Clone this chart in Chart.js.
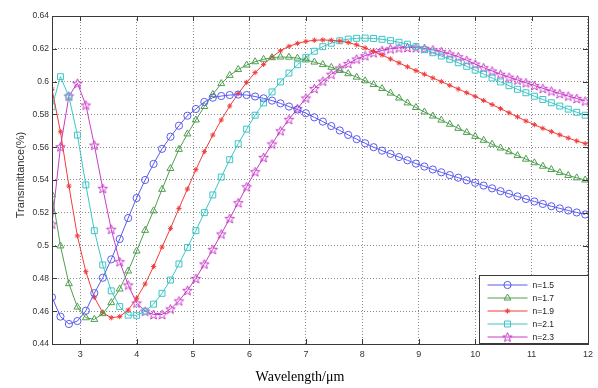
<!DOCTYPE html>
<html>
<head>
<meta charset="utf-8">
<script src="https://cdn.jsdelivr.net/npm/chart.js@4/dist/chart.umd.min.js"></script>
<style>
html,body{margin:0;padding:0;background:#fff;}
#wrap{width:598px;height:388px;}
</style>
</head>
<body>
<div id="wrap"><canvas id="c" width="598" height="388"></canvas></div>
<script>
// ---- data ----
const wavelength = [2.5, 2.65, 2.8, 2.95, 3.1, 3.25, 3.4, 3.55, 3.7, 3.85, 4.0, 4.15, 4.3, 4.45, 4.6, 4.75,
  4.9, 5.05, 5.2, 5.35, 5.5, 5.65, 5.8, 5.95, 6.1, 6.25, 6.4, 6.55, 6.7, 6.85, 7.0, 7.15,
  7.3, 7.45, 7.6, 7.75, 7.9, 8.05, 8.2, 8.35, 8.5, 8.65, 8.8, 8.95, 9.1, 9.25, 9.4, 9.55,
  9.7, 9.85, 10.0, 10.15, 10.3, 10.45, 10.6, 10.75, 10.9, 11.05, 11.2, 11.35, 11.5, 11.65, 11.8, 11.95];

const n15 = [0.4685, 0.4567, 0.4522, 0.4540, 0.4603, 0.4710, 0.4804, 0.4916, 0.5040, 0.5168, 0.5290, 0.5400, 0.5498, 0.5590, 0.5664, 0.5731,
  0.5792, 0.5833, 0.5876, 0.5902, 0.5912, 0.5918, 0.5921, 0.5918, 0.5909, 0.5898, 0.5884, 0.5867, 0.5848, 0.5830, 0.5807, 0.5782,
  0.5756, 0.5729, 0.5702, 0.5675, 0.5649, 0.5624, 0.5600, 0.5579, 0.5559, 0.5540, 0.5520, 0.5500, 0.5482, 0.5464, 0.5447, 0.5430,
  0.5414, 0.5398, 0.5383, 0.5366, 0.5349, 0.5332, 0.5316, 0.5300, 0.5284, 0.5269, 0.5254, 0.5240, 0.5227, 0.5214, 0.5202, 0.5190];

const n17 = [0.5310, 0.4998, 0.4768, 0.4625, 0.4560, 0.4550, 0.4585, 0.4652, 0.4735, 0.4845, 0.4967, 0.5093, 0.5212, 0.5343, 0.5470, 0.5587,
  0.5681, 0.5766, 0.5848, 0.5922, 0.5988, 0.6038, 0.6074, 0.6101, 0.6121, 0.6136, 0.6146, 0.6150, 0.6149, 0.6143, 0.6132, 0.6119,
  0.6104, 0.6087, 0.6068, 0.6048, 0.6027, 0.6005, 0.5982, 0.5958, 0.5930, 0.5900, 0.5870, 0.5842, 0.5815, 0.5790, 0.5765, 0.5740,
  0.5715, 0.5690, 0.5666, 0.5642, 0.5618, 0.5595, 0.5572, 0.5549, 0.5527, 0.5505, 0.5484, 0.5464, 0.5445, 0.5428, 0.5413, 0.5400];

const n19 = [0.5953, 0.5694, 0.5363, 0.5059, 0.4841, 0.4685, 0.4591, 0.4560, 0.4567, 0.4607, 0.4679, 0.4766, 0.4872, 0.4991, 0.5105, 0.5227,
  0.5345, 0.5463, 0.5573, 0.5674, 0.5766, 0.5851, 0.5927, 0.5995, 0.6055, 0.6105, 0.6150, 0.6188, 0.6215, 0.6233, 0.6245, 0.6252,
  0.6254, 0.6252, 0.6247, 0.6238, 0.6224, 0.6205, 0.6184, 0.6162, 0.6138, 0.6114, 0.6090, 0.6067, 0.6045, 0.6022, 0.6000, 0.5977,
  0.5955, 0.5932, 0.5910, 0.5885, 0.5860, 0.5835, 0.5810, 0.5785, 0.5760, 0.5737, 0.5715, 0.5695, 0.5675, 0.5656, 0.5638, 0.5622];

const n21 = [0.5847, 0.6030, 0.5908, 0.5674, 0.5370, 0.5091, 0.4882, 0.4724, 0.4628, 0.4576, 0.4575, 0.4600, 0.4643, 0.4709, 0.4790, 0.4888,
  0.4989, 0.5091, 0.5201, 0.5309, 0.5418, 0.5524, 0.5621, 0.5710, 0.5795, 0.5870, 0.5937, 0.5998, 0.6052, 0.6103, 0.6148, 0.6185,
  0.6213, 0.6234, 0.6249, 0.6259, 0.6264, 0.6265, 0.6263, 0.6258, 0.6250, 0.6240, 0.6228, 0.6213, 0.6195, 0.6176, 0.6156, 0.6136,
  0.6115, 0.6093, 0.6070, 0.6046, 0.6022, 0.5998, 0.5975, 0.5953, 0.5932, 0.5911, 0.5891, 0.5871, 0.5851, 0.5832, 0.5813, 0.5795];

const n23 = [0.5132, 0.5603, 0.5912, 0.5990, 0.5857, 0.5613, 0.5349, 0.5100, 0.4902, 0.4760, 0.4650, 0.4600, 0.4580, 0.4580, 0.4614, 0.4663,
  0.4727, 0.4800, 0.4888, 0.4977, 0.5071, 0.5166, 0.5262, 0.5359, 0.5451, 0.5538, 0.5620, 0.5700, 0.5770, 0.5835, 0.5900, 0.5958,
  0.6003, 0.6045, 0.6083, 0.6110, 0.6138, 0.6158, 0.6176, 0.6190, 0.6200, 0.6206, 0.6208, 0.6207, 0.6202, 0.6194, 0.6183, 0.6169,
  0.6152, 0.6130, 0.6107, 0.6085, 0.6065, 0.6045, 0.6027, 0.6010, 0.5993, 0.5976, 0.5959, 0.5943, 0.5927, 0.5912, 0.5897, 0.5882];

const seriesLabels = ['n=1.5', 'n=1.7', 'n=1.9', 'n=2.1', 'n=2.3'];
const xTicks = [3, 4, 5, 6, 7, 8, 9, 10, 11, 12];
const yTicks = [0.44, 0.46, 0.48, 0.5, 0.52, 0.54, 0.56, 0.58, 0.6, 0.62, 0.64];
const xTitle = 'Wavelength/\u03bcm';
const yTitle = 'Transmittance(%)';

// ---- styles ----
const SANS = "'Liberation Sans', Arial, Helvetica, sans-serif";
const SERIF = "'Liberation Serif', 'Times New Roman', serif";
const colors = ['#5a5af0', '#4f9f4f', '#f03c3c', '#3cc6c6', '#c83cc8'];

function makePentagram(color, r) {
  const s = Math.ceil(2 * r + 3);
  const c = document.createElement('canvas');
  c.width = s; c.height = s;
  const g = c.getContext('2d');
  g.strokeStyle = color; g.lineWidth = 1;
  g.beginPath();
  for (let k = 0; k < 10; k++) {
    const a = -Math.PI / 2 + k * Math.PI / 5;
    const rr = (k % 2) ? r * 0.42 : r;
    const px = s / 2 + rr * Math.cos(a), py = s / 2 + 0.5 + rr * Math.sin(a);
    if (k === 0) g.moveTo(px, py); else g.lineTo(px, py);
  }
  g.closePath(); g.stroke();
  return c;
}
const pentagram = makePentagram(colors[4], 5);

const styles = [
  { pointStyle: 'circle', pointRadius: 3.6 },
  { pointStyle: 'triangle', pointRadius: 4 },
  { pointStyle: 'star', pointRadius: 2.6 },
  { pointStyle: 'rect', pointRadius: 4.2 },
  { pointStyle: pentagram, pointRadius: 5 }
];

const allSeries = [n15, n17, n19, n21, n23];
const datasets = allSeries.map((s, k) => ({
  label: seriesLabels[k],
  data: wavelength.map((x, i) => ({ x: x, y: s[i] })),
  borderColor: colors[k],
  backgroundColor: 'rgba(0,0,0,0)',
  pointBorderColor: colors[k],
  pointBackgroundColor: 'rgba(0,0,0,0)',
  borderWidth: 1,
  pointBorderWidth: 1,
  pointStyle: styles[k].pointStyle,
  pointRadius: styles[k].pointRadius,
  tension: 0,
  fill: false
}));

// frame + inward ticks + axis titles + legend
const framePlugin = {
  id: 'frame',
  afterDatasetsDraw(chart) {
    const { ctx, chartArea: a, scales } = chart;
    ctx.save();
    ctx.strokeStyle = '#3a3a3a';
    ctx.lineWidth = 1;
    ctx.setLineDash([]);
    ctx.strokeRect(Math.round(a.left) + 0.5, Math.round(a.top) + 0.5,
      Math.round(a.right - a.left), Math.round(a.bottom - a.top));
    const tl = 5;
    ctx.beginPath();
    xTicks.forEach(v => {
      const px = Math.round(scales.x.getPixelForValue(v)) + 0.5;
      ctx.moveTo(px, a.bottom); ctx.lineTo(px, a.bottom - tl);
      ctx.moveTo(px, a.top); ctx.lineTo(px, a.top + tl);
    });
    yTicks.forEach(v => {
      const py = Math.round(scales.y.getPixelForValue(v)) + 0.5;
      ctx.moveTo(a.left, py); ctx.lineTo(a.left + tl, py);
      ctx.moveTo(a.right, py); ctx.lineTo(a.right - tl, py);
    });
    ctx.stroke();

    // axis titles
    ctx.fillStyle = '#000';
    ctx.textAlign = 'center';
    ctx.textBaseline = 'middle';
    ctx.font = '14px ' + SERIF;
    ctx.fillText(xTitle, 300, 377);
    ctx.save();
    ctx.translate(21, 175);
    ctx.rotate(-Math.PI / 2);
    ctx.fillStyle = '#333';
    ctx.font = '11px ' + SANS;
    ctx.fillText(yTitle, 0, 0);
    ctx.restore();

    // legend box
    const bw = 109, bh = 68;
    const bx = Math.round(a.right) - bw + 0.5, by = Math.round(a.bottom) - bh - 0.5;
    ctx.fillStyle = '#ffffff';
    ctx.fillRect(bx, by, bw, bh);
    ctx.strokeStyle = '#3a3a3a';
    ctx.strokeRect(bx, by, bw, bh);
    ctx.font = '8.5px ' + SANS;
    ctx.textBaseline = 'middle';
    ctx.textAlign = 'left';
    chart.data.datasets.forEach((ds, k) => {
      const yy = by + 9.5 + k * 13;
      ctx.strokeStyle = ds.borderColor;
      ctx.lineWidth = 1;
      ctx.beginPath();
      ctx.moveTo(bx + 8, yy); ctx.lineTo(bx + 48, yy);
      ctx.stroke();
      if (Chart.helpers && Chart.helpers.drawPoint) {
        ctx.fillStyle = 'rgba(0,0,0,0)';
        Chart.helpers.drawPoint(ctx, { pointStyle: ds.pointStyle, radius: ds.pointRadius, borderWidth: 1, rotation: 0 }, bx + 28, yy);
      }
      ctx.fillStyle = '#222';
      ctx.fillText(ds.label, bx + 53, yy + 0.5);
    });
    ctx.restore();
  }
};

new Chart(document.getElementById('c'), {
  type: 'line',
  data: { datasets: datasets },
  plugins: [framePlugin],
  options: {
    responsive: false,
    animation: false,
    devicePixelRatio: 1,
    layout: { padding: { top: 16, right: 9, left: 0, bottom: 0 } },
    plugins: { legend: { display: false }, tooltip: { enabled: false } },
    scales: {
      x: {
        type: 'linear', min: 2.5, max: 12,
        afterBuildTicks: s => { s.ticks = xTicks.map(v => ({ value: v })); },
        afterFit: s => { s.height = 44; },
        grid: { color: '#8a8a8a', lineWidth: 1, drawTicks: false },
        border: { display: false, dash: [1, 2] },
        ticks: { color: '#333', font: { family: SANS, size: 9 }, padding: 5, maxRotation: 0, autoSkip: false,
                 callback: v => String(v) },
        title: { display: false }
      },
      y: {
        type: 'linear', min: 0.44, max: 0.64,
        afterBuildTicks: s => { s.ticks = yTicks.map(v => ({ value: v })); },
        afterFit: s => { s.width = 52; },
        grid: { color: '#8a8a8a', lineWidth: 1, drawTicks: false },
        border: { display: false, dash: [1, 2] },
        ticks: { color: '#333', font: { family: SANS, size: 8.5 }, padding: 3, autoSkip: false,
                 callback: v => String(Math.round(v * 100) / 100) },
        title: { display: false }
      }
    }
  }
});
</script>
</body>
</html>
